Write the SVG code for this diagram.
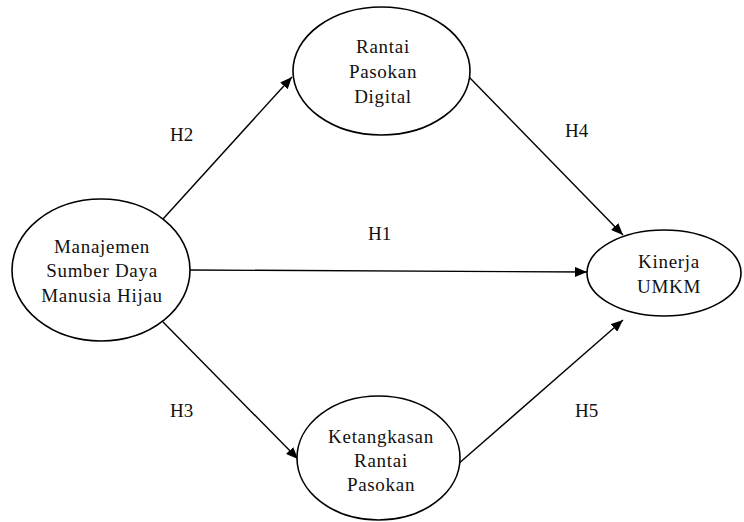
<svg xmlns="http://www.w3.org/2000/svg" width="744" height="522" viewBox="0 0 744 522">
<defs>
<style>
.n{fill:#fff;stroke:#000;stroke-width:1.6}
.t{font-family:"Liberation Serif","Times New Roman",serif;font-size:19px;letter-spacing:0.7px;fill:#111;text-anchor:middle}
.l{font-family:"Liberation Serif","Times New Roman",serif;font-size:19px;fill:#111}
.c{stroke:#000;stroke-width:1.4;fill:none;marker-end:url(#ah)}
</style>
<marker id="ah" viewBox="0 0 12 10" refX="12" refY="5" markerWidth="12" markerHeight="10" markerUnits="userSpaceOnUse" orient="auto">
<path d="M0,0 L12,5 L0,10 z" fill="#000"/>
</marker>
</defs>
<rect width="744" height="522" fill="#fff"/>
<g id="connectors">
<line class="c" x1="163" y1="219" x2="292" y2="77"/>
<line class="c" x1="190" y1="270" x2="587" y2="272"/>
<line class="c" x1="163" y1="322" x2="298" y2="459"/>
<line class="c" x1="469" y1="77" x2="623" y2="235"/>
<line class="c" x1="457" y1="465" x2="623" y2="320"/>
<text class="l" x="170" y="141">H2</text>
<text class="l" x="368" y="240">H1</text>
<text class="l" x="170" y="417">H3</text>
<text class="l" x="565" y="137">H4</text>
<text class="l" x="575" y="417">H5</text>
</g>
<g id="msdmh">
<ellipse class="n" cx="101" cy="270" rx="89" ry="71"/>
<text class="t" x="102" y="253">Manajemen</text>
<text class="t" x="102" y="277">Sumber Daya</text>
<text class="t" x="102" y="302">Manusia Hijau</text>
</g>
<g id="rpd">
<ellipse class="n" cx="381.5" cy="71" rx="88.5" ry="64"/>
<text class="t" x="383" y="53">Rantai</text>
<text class="t" x="383" y="78">Pasokan</text>
<text class="t" x="383" y="103">Digital</text>
</g>
<g id="krp">
<ellipse class="n" cx="378.5" cy="458" rx="81.5" ry="62"/>
<text class="t" x="381" y="443">Ketangkasan</text>
<text class="t" x="381" y="467">Rantai</text>
<text class="t" x="381" y="491">Pasokan</text>
</g>
<g id="kinerja">
<ellipse class="n" cx="664" cy="273" rx="77" ry="43"/>
<text class="t" x="669" y="268">Kinerja</text>
<text class="t" x="669" y="293">UMKM</text>
</g>
</svg>
